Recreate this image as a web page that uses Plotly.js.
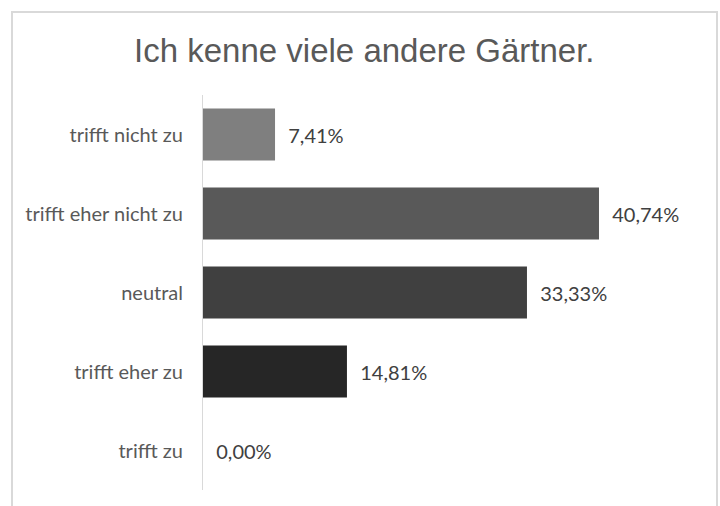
<!DOCTYPE html>
<html>
<head>
<meta charset="utf-8">
<script src="https://cdn.plot.ly/plotly-3.0.1.min.js"></script>
<style>
  html, body { margin: 0; padding: 0; background: #fff; }
  #wrap { position: relative; width: 720px; height: 506px; overflow: hidden; }
  #chart { width: 720px; height: 506px; }
  #frame { position: absolute; left: 11px; top: 11px; width: 703px; height: 520px;
           border: 2px solid #d9d9d9; pointer-events: none; }
</style>
</head>
<body>
<div id="wrap">
  <div id="chart"></div>
  <div id="frame"></div>
</div>
<script>
const categories = ["trifft nicht zu", "trifft eher nicht zu", "neutral", "trifft eher zu", "trifft zu"];
const percentages = [7.41, 40.74, 33.33, 14.81, 0.00];
const barColors = ["#7f7f7f", "#595959", "#404040", "#262626", "#0d0d0d"];
const chartTitle = "Ich kenne viele andere Gärtner.";

const trace = {
  type: "bar",
  orientation: "h",
  y: categories,
  x: percentages,
  marker: { color: barColors, line: { width: 0 } },
  texttemplate: "\u00a0\u00a0%{x:.2f}%",
  textposition: "outside",
  cliponaxis: false,
  textfont: { family: "Lato, 'Open Sans', sans-serif", size: 20, color: "#404040" },
  hoverinfo: "none"
};

const layout = {
  width: 720,
  height: 506,
  margin: { l: 203, r: 31, t: 95, b: 16 },
  paper_bgcolor: "#ffffff",
  plot_bgcolor: "#ffffff",
  separators: ",.",
  bargap: 0.34,
  showlegend: false,
  title: {
    text: chartTitle,
    font: { family: "'Liberation Sans', Arial, sans-serif", size: 33, color: "#595959" },
    xref: "container", x: 0.506, xanchor: "center",
    yref: "container", y: 0.901, yanchor: "middle"
  },
  xaxis: {
    range: [0, 50],
    visible: false,
    showgrid: false,
    zeroline: false
  },
  yaxis: {
    type: "category",
    autorange: "reversed",
    showline: true,
    linecolor: "#d9d9d9",
    linewidth: 1,
    showgrid: false,
    zeroline: false,
    ticks: "",
    ticklabelstandoff: 15,
    tickfont: { family: "Lato, 'Open Sans', sans-serif", size: 20, color: "#595959" }
  }
};

Plotly.newPlot("chart", [trace], layout, { displayModeBar: false, staticPlot: true });
</script>
</body>
</html>
